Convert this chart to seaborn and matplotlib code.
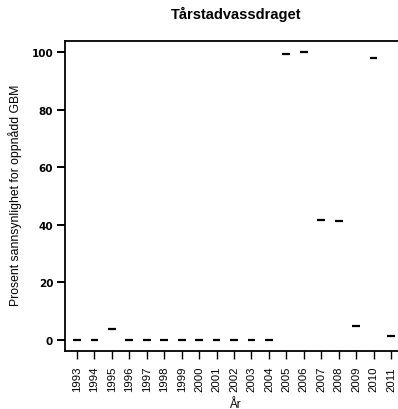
import matplotlib
matplotlib.use("Agg")
import matplotlib.pyplot as plt
import seaborn as sns
import pandas as pd

years = [str(y) for y in range(1993, 2012)]
values = [0.0, 0.0, 3.5, 0.0, 0.0, 0.0, 0.0, 0.0, 0.0, 0.0, 0.0, 0.0,
          99.3, 100.0, 41.7, 41.4, 4.8, 98.0, 1.1]
yticks = [0, 20, 40, 60, 80, 100]

title = "Tårstadvassdraget"
ylabel = "Prosent sannsynlighet for oppnådd GBM"
xlabel = "År"

sns.set_style("ticks")
plt.rcParams['font.family'] = ['Liberation Sans', 'DejaVu Sans']
plt.rcParams['text.color'] = 'black'
plt.rcParams['xtick.color'] = 'black'
plt.rcParams['ytick.color'] = 'black'

df = pd.DataFrame({"year": years, "value": values})

W, H = 398, 410
fig = plt.figure(figsize=(W / 100, H / 100), dpi=100)
left, right, top, bottom = 65, 397.5, 42, 352
step = (391 - 77) / 18.0
ax = fig.add_axes([left / W, 1 - bottom / H, (right - left) / W, (bottom - top) / H])

sns.boxplot(data=df, x="year", y="value", order=years, ax=ax, width=0.44,
            color="white", linecolor="black", linewidth=0, showcaps=False,
            fliersize=0,
            medianprops={"linewidth": 1.6, "color": "black",
                         "solid_capstyle": "butt"},
            whiskerprops={"linewidth": 0})

ax.set_xlim(-(77 - left) / step, 18 + (right - 391) / step)
ax.set_ylim(-4, 104)
ax.set_yticks(yticks)
ax.set_yticklabels([str(v) for v in yticks], fontweight="bold", fontsize=7.5,
                   family="DejaVu Sans")
ax.set_xticks(range(len(years)))
ax.set_xticklabels(years, rotation=90, fontsize=8.2)
ax.tick_params(axis="x", length=5.8, width=1, pad=5, colors="black")
ax.tick_params(axis="y", length=5.5, width=1.4, pad=3, colors="black")
ax.set_xlabel("")
ax.set_ylabel("")
for name, s in ax.spines.items():
    s.set_visible(name != "right")
    s.set_linewidth(1.3)
    s.set_color("black")
    s.set_capstyle("projecting")

fig.text(236 / W, 1 - 19.5 / H, title, ha="center", va="baseline",
         fontweight="bold", fontsize=10.5)
fig.text(15 / W, 1 - 195 / H, ylabel, ha="center", va="center",
         rotation=90, fontsize=8.8)
fig.text(235 / W, 1 - 408 / H, xlabel, ha="center", va="baseline", fontsize=8.5)

fig.savefig("out.png", dpi=100)
